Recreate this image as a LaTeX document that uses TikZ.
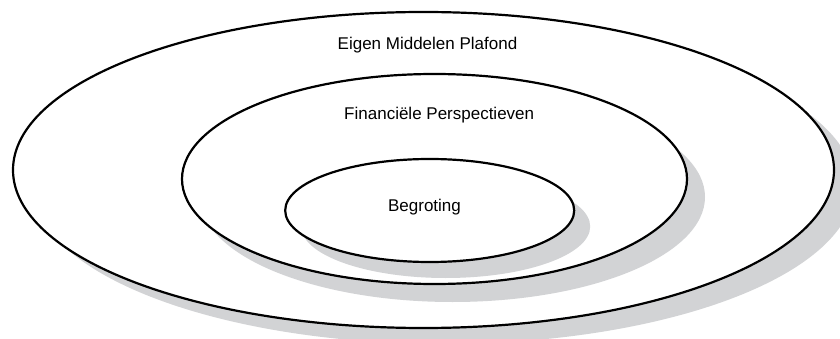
\documentclass[tikz,border=0pt]{standalone}
\usepackage{fontspec}
\setmainfont{Liberation Sans}
\definecolor{shadowgray}{RGB}{210,211,213}
\begin{document}
\begin{tikzpicture}[x=1pt,y=-1pt,
  ring/.style={draw=black,line width=2.2pt,fill=white},
  shade/.style={fill=shadowgray,draw=none},
  lbl/.style={anchor=base,inner sep=0pt,font=\fontsize{17}{20}\selectfont}]
\useasboundingbox (0,0) rectangle (840,339);
\clip (0,0) rectangle (840,339);
\fill[white] (0,0) rectangle (840,339);
% outer
\fill[shade] (443.5,186) ellipse [x radius=410.5pt, y radius=158pt];
\draw[ring] (423.5,170) ellipse [x radius=410.5pt, y radius=158pt];
% middle
\fill[shade] (452.5,197) ellipse [x radius=252.5pt, y radius=105pt];
\draw[ring] (434.5,179) ellipse [x radius=252.5pt, y radius=105pt];
% inner
\fill[shade] (445.7,226.5) ellipse [x radius=144.5pt, y radius=51.5pt];
\draw[ring] (429.7,210.5) ellipse [x radius=144.5pt, y radius=51.5pt];
\node[lbl] (eigen) at (427.5,50) {Eigen Middelen Plafond};
\node[lbl] (fin) at (439.2,120) {Financiële Perspectieven};
\node[lbl] (beg) at (424.5,211.7) {Begroting};
\end{tikzpicture}
\end{document}
